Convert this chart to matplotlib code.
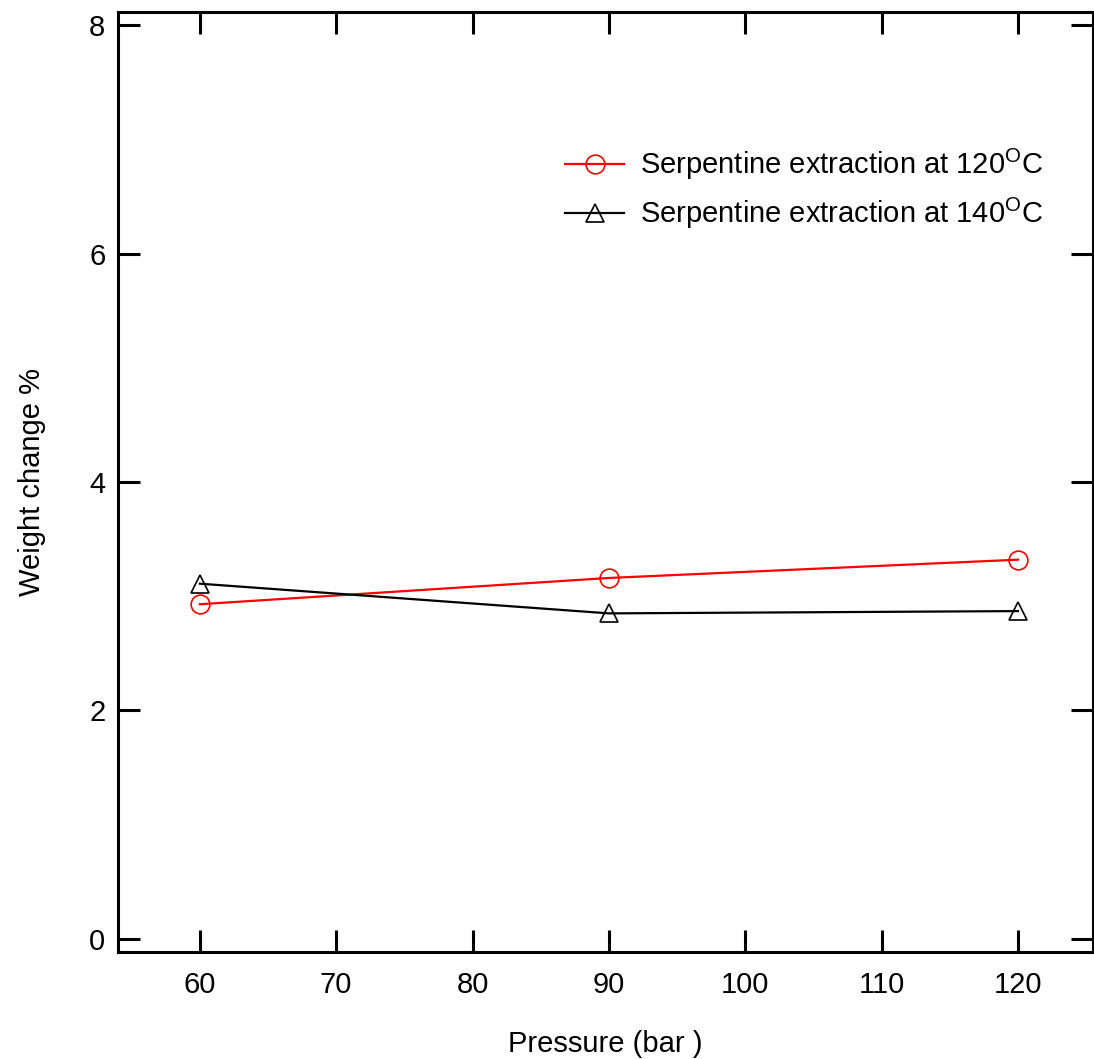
import matplotlib
matplotlib.use("Agg")
import matplotlib.pyplot as plt

plt.rcParams['font.family'] = ['Liberation Sans', 'DejaVu Sans']
plt.rcParams['mathtext.fontset'] = 'custom'
plt.rcParams['mathtext.rm'] = 'Liberation Sans'
plt.rcParams['mathtext.it'] = 'Liberation Sans'

pressure = [60, 90, 120]
wt_120 = [2.93, 3.16, 3.32]
wt_140 = [3.11, 2.85, 2.87]
lab_120 = r'Serpentine extraction at 120$^{\rm O}$C'
lab_140 = r'Serpentine extraction at 140$^{\rm O}$C'
xticks = [60, 70, 80, 90, 100, 110, 120]
yticks = [0, 2, 4, 6, 8]

fig = plt.figure(figsize=(10.94, 10.59), dpi=100)
ax = fig.add_axes([118/1094, 107/1059, 975/1094, 940/1059])

ax.plot(pressure, wt_120, color='red', lw=1.6, marker='o', ms=13.5,
        mfc='none', mec='red', mew=1.2, label=lab_120)
ax.plot(pressure, wt_140, color='black', lw=1.6, marker='^', ms=13.5,
        mfc='none', mec='black', mew=1.2, label=lab_140)

ax.set_xlim(54, 125.5)
ax.set_ylim(-0.114, 8.114)
ax.set_xticks(xticks)
ax.set_yticks(yticks)
ax.tick_params(direction='in', length=16, width=2.2, labelsize=21,
               top=True, right=True)
ax.tick_params(axis='x', pad=14)
ax.tick_params(axis='y', pad=9)
for s in ax.spines.values():
    s.set_linewidth(2.2)

ax.set_xlabel('Pressure (bar )', fontsize=21, labelpad=22)
ax.set_ylabel('Weight change %', fontsize=21, labelpad=31)

ax.legend(loc='upper left', bbox_to_anchor=(0.447, 0.869), frameon=False,
          fontsize=21, handlelength=2.0, handletextpad=0.55, labelspacing=0.48,
          borderaxespad=0)

fig.savefig('out.png', dpi=100)
